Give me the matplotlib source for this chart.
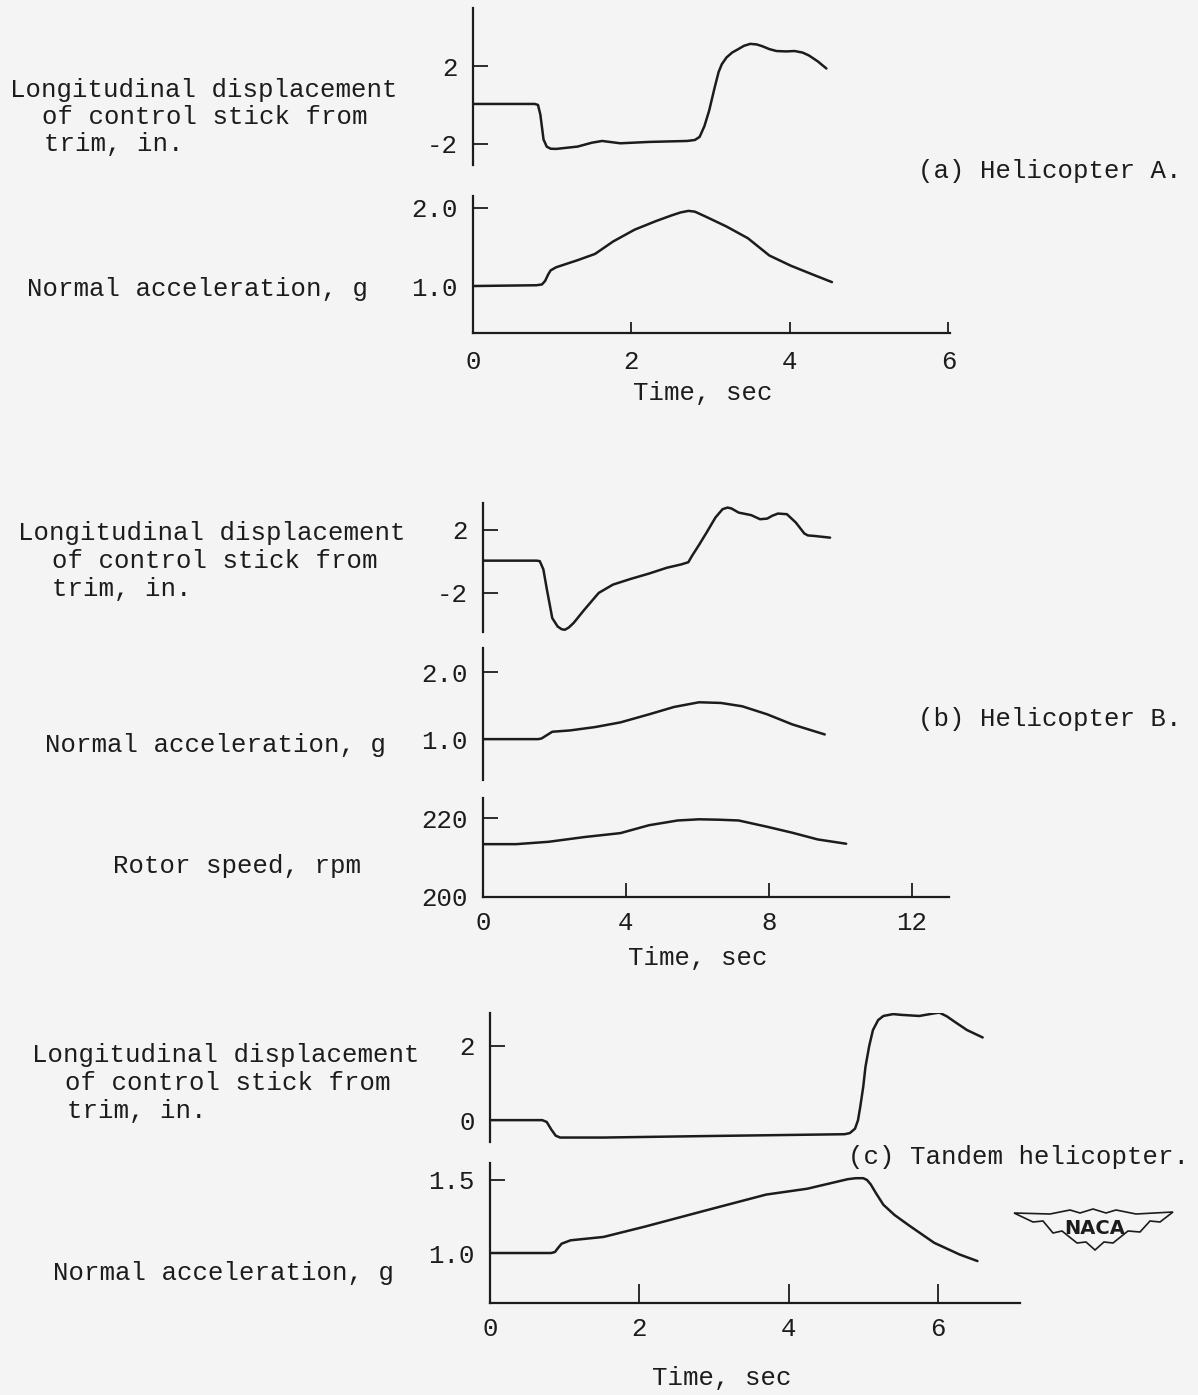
import numpy as np
import matplotlib
matplotlib.use('Agg')
import matplotlib.pyplot as plt
from matplotlib.patches import Polygon

W, H, DPI = 1198, 1395, 100
FS = 18.5
INK = '#1c1c1c'
PAPER = '#f4f4f4'

# (a) Helicopter A
a_stick_t = [0, 0.78, 0.82, 0.85, 0.89, 0.93, 0.98, 1.05, 1.32, 1.50, 1.63, 1.86, 2.22, 2.70,
             2.80, 2.86, 2.92, 2.98, 3.05, 3.10, 3.14, 3.20, 3.27, 3.34, 3.42, 3.50, 3.58,
             3.65, 3.74, 3.83, 3.95, 4.06, 4.16, 4.24, 4.35, 4.46]
a_stick_v = [0.05, 0.05, 0.0, -0.5, -1.78, -2.15, -2.26, -2.27, -2.15, -1.95, -1.86, -1.98,
             -1.91, -1.86, -1.81, -1.65, -1.1, -0.3, 0.9, 1.7, 2.1, 2.45, 2.7, 2.86, 3.05,
             3.15, 3.12, 3.03, 2.88, 2.78, 2.76, 2.78, 2.7, 2.55, 2.25, 1.88]
a_acc_t = [0, 0.80, 0.87, 0.91, 0.95, 0.98, 1.05, 1.32, 1.54, 1.77, 2.04, 2.31, 2.50, 2.62,
           2.72, 2.80, 2.93, 3.2, 3.47, 3.74, 4.01, 4.28, 4.53]
a_acc_v = [1.0, 1.01, 1.02, 1.065, 1.15, 1.2, 1.24, 1.33, 1.41, 1.57, 1.72, 1.83, 1.90, 1.94,
           1.96, 1.95, 1.89, 1.76, 1.61, 1.39, 1.26, 1.15, 1.05]

# (b) Helicopter B
b_stick_t = [0, 1.50, 1.59, 1.69, 1.79, 1.94, 2.09, 2.20, 2.29, 2.40, 2.54, 2.84, 3.24, 3.64,
             4.15, 4.65, 5.15, 5.55, 5.75, 5.85, 6.05, 6.26, 6.51, 6.71, 6.85, 6.96, 7.16,
             7.51, 7.76, 7.96, 8.10, 8.26, 8.51, 8.76, 9.0, 9.1, 9.27, 9.72]
b_stick_v = [0.05, 0.05, 0.02, -0.5, -1.79, -3.6, -4.13, -4.30, -4.34, -4.20, -3.9, -3.06,
             -2.0, -1.47, -1.1, -0.77, -0.4, -0.19, -0.05, 0.34, 1.05, 1.83, 2.79, 3.32,
             3.42, 3.36, 3.1, 2.94, 2.68, 2.72, 2.90, 3.04, 3.0, 2.47, 1.77, 1.65, 1.62, 1.51]
b_acc_t = [0, 1.55, 1.64, 1.79, 1.94, 2.44, 3.14, 3.85, 4.65, 5.35, 6.05, 6.66, 7.26, 7.96,
           8.66, 9.57]
b_acc_v = [1.0, 1.0, 1.01, 1.06, 1.11, 1.13, 1.18, 1.25, 1.37, 1.48, 1.55, 1.54, 1.49, 1.37,
           1.22, 1.07]
b_rpm_t = [0, 0.93, 1.84, 2.84, 3.85, 4.25, 4.65, 5.45, 6.05, 6.6, 7.16, 7.96, 8.66, 9.37,
           10.17]
b_rpm_v = [213.4, 213.4, 214.0, 215.2, 216.2, 217.2, 218.2, 219.4, 219.7, 219.6, 219.4,
           217.8, 216.3, 214.6, 213.5]

# (c) Tandem helicopter
c_stick_t = [0, 0.70, 0.76, 0.82, 0.88, 0.94, 1.52, 2.88, 4.75, 4.82, 4.89, 4.93, 4.96, 5.0,
             5.03, 5.08, 5.13, 5.20, 5.27, 5.40, 5.51, 5.75, 5.95, 6.02, 6.12, 6.22, 6.39,
             6.6]
c_stick_v = [0, 0, -0.05, -0.25, -0.42, -0.47, -0.47, -0.43, -0.38, -0.35, -0.23, 0.0, 0.36,
             0.9, 1.44, 2.0, 2.43, 2.70, 2.81, 2.86, 2.84, 2.81, 2.88, 2.9, 2.80, 2.66,
             2.43, 2.23]
c_acc_t = [0, 0.82, 0.87, 0.92, 0.96, 1.08, 1.52, 2.07, 2.88, 3.7, 4.25, 4.79, 4.9, 5.0, 5.05,
           5.1, 5.17, 5.27, 5.42, 5.61, 5.95, 6.29, 6.53]
c_acc_v = [1.0, 1.0, 1.007, 1.04, 1.064, 1.087, 1.11, 1.18, 1.29, 1.40, 1.44, 1.505, 1.512,
           1.512, 1.50, 1.47, 1.41, 1.33, 1.26, 1.19, 1.07, 0.99, 0.945]

stick_lines = ['Longitudinal displacement', 'of control stick from', 'trim, in.']

plt.rcParams['font.family'] = ['Liberation Mono', 'DejaVu Sans Mono']
fig = plt.figure(figsize=(W / DPI, H / DPI), dpi=DPI, facecolor=PAPER)


def add_ax(x0, y0, x1, y1, xlim, ylim, yticks, ylabels, ylen=11, bottom=False):
    ax = fig.add_axes([x0 / W, 1 - y1 / H, (x1 - x0) / W, (y1 - y0) / H])
    ax.set_facecolor('none')
    ax.set_xlim(xlim)
    ax.set_ylim(ylim)
    for s in ['top', 'right']:
        ax.spines[s].set_visible(False)
    for s in ['left', 'bottom']:
        ax.spines[s].set_linewidth(1.6)
        ax.spines[s].set_color(INK)
    if not bottom:
        ax.spines['bottom'].set_visible(False)
        ax.set_xticks([])
    ax.set_yticks(yticks, ylabels)
    ax.tick_params(axis='y', direction='in', length=ylen, width=1.3, color=INK,
                   labelsize=FS, labelcolor=INK, pad=11)
    ax.tick_params(axis='x', direction='in', length=8, width=1.3, color=INK,
                   labelsize=FS, labelcolor=INK, pad=12)
    return ax


def txt(x, y, s, ha='left'):
    fig.text(x / W, 1 - y / H, s, ha=ha, va='center', fontsize=FS, color=INK)


def curve(ax, t, v):
    ax.plot(t, v, color=INK, lw=1.8, solid_joinstyle='round', solid_capstyle='round')


# ---- (a)
ax = add_ax(473, 8, 950, 165, (0, 6.02), (-3.1, 5.0), [-2, 2], ['-2', '2'])
curve(ax, a_stick_t, a_stick_v)
ax = add_ax(473, 196, 950, 333, (0, 6.02), (0.40, 2.15), [1.0, 2.0], ['1.0', '2.0'], bottom=True)
ax.set_xticks([0, 2, 4, 6], ['0', '2', '4', '6'])
curve(ax, a_acc_t, a_acc_v)
for i, s in enumerate(stick_lines):
    txt([10, 42, 44][i], [90, 117, 144][i], s)
txt(27, 289, 'Normal acceleration, g')
txt(918, 171, '(a) Helicopter A.')
txt(703, 393, 'Time, sec', ha='center')

# ---- (b)
bx = (0, 13.05)
ax = add_ax(483, 503, 949, 632, bx, (-4.48, 3.71), [-2, 2], ['-2', '2'])
curve(ax, b_stick_t, b_stick_v)
ax = add_ax(483, 648, 949, 780, bx, (0.39, 2.36), [1.0, 2.0], ['1.0', '2.0'])
curve(ax, b_acc_t, b_acc_v)
ax = add_ax(483, 798, 949, 897, bx, (200, 225.1), [200, 220], ['200', '220'], bottom=True)
ax.set_xticks([0, 4, 8, 12], ['0', '4', '8', '12'])
ax.tick_params(axis='x', length=10, pad=10)
curve(ax, b_rpm_t, b_rpm_v)
for i, s in enumerate(stick_lines):
    txt([18, 52, 52][i], [533, 561, 589][i], s)
txt(45, 745, 'Normal acceleration, g')
txt(113, 866, 'Rotor speed, rpm')
txt(918, 719, '(b) Helicopter B.')
txt(698, 958, 'Time, sec', ha='center')

# ---- (c)
cx = (0, 7.1)
ax = add_ax(490, 1013, 1020, 1142, cx, (-0.59, 2.89), [0, 2], ['0', '2'])
curve(ax, c_stick_t, c_stick_v)
ax = add_ax(490, 1163, 1020, 1303, cx, (0.658, 1.616), [1.0, 1.5], ['1.0', '1.5'], bottom=True)
ax.set_xticks([0, 2, 4, 6], ['0', '2', '4', '6'])
ax.tick_params(axis='x', length=14, pad=10)
curve(ax, c_acc_t, c_acc_v)
for i, s in enumerate(stick_lines):
    txt([32, 65, 67][i], [1055, 1083, 1111][i], s)
txt(53, 1273, 'Normal acceleration, g')
txt(848, 1157, '(c) Tandem helicopter.')
txt(722, 1378, 'Time, sec', ha='center')

# NACA wing emblem
wing = [(1014, 1213), (1050, 1214), (1070, 1210), (1080, 1213), (1093, 1209), (1106, 1213),
        (1116, 1210), (1136, 1214), (1173, 1212), (1160, 1222), (1150, 1221), (1140, 1232),
        (1128, 1231), (1113, 1243), (1104, 1242), (1095, 1250), (1086, 1242), (1077, 1243),
        (1062, 1231), (1053, 1233), (1043, 1221), (1033, 1222)]
wing = [(x / W, 1 - y / H) for x, y in wing]
fig.patches.append(Polygon(wing, closed=True, fill=False, edgecolor=INK, lw=1.2,
                           transform=fig.transFigure))
fig.text(1095 / W, 1 - 1228 / H, 'NACA', ha='center', va='center', fontsize=14,
         fontweight='bold', family='DejaVu Sans', color=INK)

fig.savefig('out.png', dpi=DPI, facecolor=PAPER)
